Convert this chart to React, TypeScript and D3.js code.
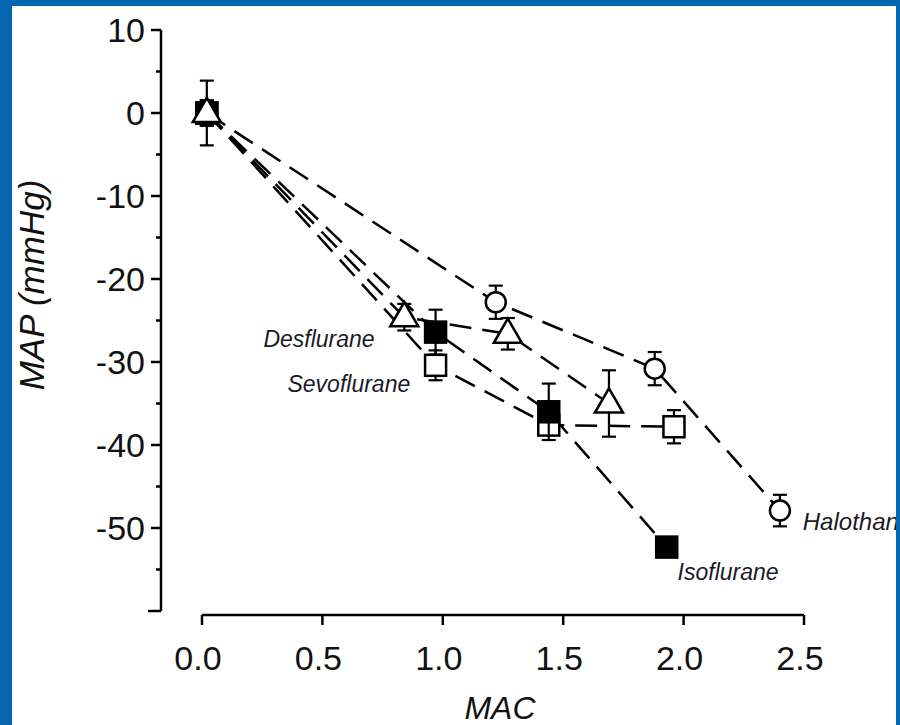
import React from "react";
import * as d3 from "d3";

const seriesNames = ["Sevoflurane", "Halothane", "Isoflurane", "Desflurane"];
const markerKinds = ["openSquare", "openCircle", "filledSquare", "openTriangle"];

const sevoMAC = [0.02, 0.97, 1.44, 1.96];
const sevoMAP = [0, -30.4, -37.6, -37.8];
const sevoErr = [1.5, 1.8, 0.8, 2.0];

const haloMAC = [0.02, 1.22, 1.88, 2.4];
const haloMAP = [0, -22.8, -30.8, -47.9];
const haloErr = [1.5, 2.0, 2.0, 1.9];

const isoMAC = [0.02, 0.97, 1.44, 1.93];
const isoMAP = [0, -26.4, -36.0, -52.3];
const isoErr = [1.5, 2.7, 3.4, 0.5];

const desMAC = [0.02, 0.84, 1.27, 1.69];
const desMAP = [0, -24.6, -26.6, -35.0];
const desErr = [3.9, 1.6, 1.9, 4.0];

const xTicks = [0, 0.5, 1.0, 1.5, 2.0, 2.5];
const yMajorTicks = [10, 0, -10, -20, -30, -40, -50, -60];
const yMinorTicks = [5, -5, -15, -25, -35, -45, -55];
const yTickLabels = ["10", "0", "-10", "-20", "-30", "-40", "-50", ""];

const labelNames = ["Desflurane", "Sevoflurane", "Isoflurane", "Halothane"];
const labelMAC = [0.255, 0.355, 1.975, 2.495];
const labelMAP = [-28.2, -33.6, -56.3, -50.2];

const FONT = "'Liberation Sans', Arial, Helvetica, sans-serif";
const BLUE = "#0466ae";

export default function App() {
  const W = 900;
  const H = 725;
  const x = d3.scaleLinear().domain([0, 2.5]).range([202, 804]);
  const y = d3.scaleLinear().domain([10, -60]).range([30, 611]);
  const axisX = 161;
  const xAxisY = 615;

  const series = [
    { mac: sevoMAC, map: sevoMAP, err: sevoErr },
    { mac: haloMAC, map: haloMAP, err: haloErr },
    { mac: isoMAC, map: isoMAP, err: isoErr },
    { mac: desMAC, map: desMAP, err: desErr },
  ];

  const line = d3
    .line<[number, number]>()
    .x((d) => x(d[0]))
    .y((d) => y(d[1]));

  const sw = 2.5;

  const marker = (kind: string, cx: number, cy: number, key: string) => {
    if (kind === "openCircle")
      return <circle key={key} cx={cx} cy={cy} r={10} fill="#fff" stroke="#000" strokeWidth={sw} />;
    if (kind === "openSquare")
      return <rect key={key} x={cx - 10.5} y={cy - 10.5} width={21} height={21} fill="#fff" stroke="#000" strokeWidth={sw} />;
    if (kind === "filledSquare")
      return <rect key={key} x={cx - 11} y={cy - 11} width={22} height={22} fill="#000" stroke="#000" strokeWidth={1.5} />;
    const tri = d3.symbol().type(d3.symbolTriangle).size(340)();
    return (
      <path key={key} d={tri || ""} transform={`translate(${cx},${cy + 1})`} fill="#fff" stroke="#000" strokeWidth={sw} />
    );
  };

  return (
    <svg width={W} height={H} style={{ position: "absolute", left: 0, top: 0, display: "block", background: "#fff" }}>
      <rect x={0} y={0} width={W} height={H} fill="#fff" />

      {/* Y axis */}
      <line x1={axisX} x2={axisX} y1={y(10)} y2={y(-60)} stroke="#000" strokeWidth={2.5} />
      {yMajorTicks.map((t, i) => (
        <g key={"ym" + i}>
          <line x1={axisX - (t === -60 ? 13 : 10)} x2={axisX} y1={y(t)} y2={y(t)} stroke="#000" strokeWidth={2.5} />
          <text x={145} y={y(t) + 12} textAnchor="end" fontFamily={FONT} fontSize={34} fill="#111">
            {yTickLabels[i]}
          </text>
        </g>
      ))}
      {yMinorTicks.map((t, i) => (
        <line key={"yn" + i} x1={axisX - 5} x2={axisX} y1={y(t)} y2={y(t)} stroke="#000" strokeWidth={2.5} />
      ))}
      <text
        transform={`translate(44,285) rotate(-90)`}
        textAnchor="middle"
        fontFamily={FONT}
        fontStyle="italic"
        fontSize={35}
        fill="#111"
      >
        MAP (mmHg)
      </text>

      {/* X axis */}
      <line x1={x(0)} x2={x(2.5)} y1={xAxisY} y2={xAxisY} stroke="#000" strokeWidth={2.5} />
      {xTicks.map((t, i) => (
        <g key={"xt" + i}>
          <line x1={x(t)} x2={x(t)} y1={xAxisY} y2={xAxisY + 10} stroke="#000" strokeWidth={2.5} />
          <text x={x(t) - 4} y={670} textAnchor="middle" fontFamily={FONT} fontSize={34} fill="#111">
            {d3.format(".1f")(t)}
          </text>
        </g>
      ))}
      <text x={500} y={719} textAnchor="middle" fontFamily={FONT} fontStyle="italic" fontSize={32} fill="#111">
        MAC
      </text>

      {/* dashed lines */}
      {series.map((s, si) => (
        <path
          key={"l" + si}
          d={line(s.mac.map((m, i) => [m, s.map[i]] as [number, number])) || ""}
          fill="none"
          stroke="#000"
          strokeWidth={sw}
          strokeDasharray="22 11"
        />
      ))}

      {/* error bars + markers */}
      {series.map((s, si) => (
        <g key={"s" + si}>
          {s.mac.map((m, i) => {
            const cx = x(m);
            const top = y(s.map[i] + s.err[i]);
            const bot = y(s.map[i] - s.err[i]);
            return (
              <g key={"e" + i}>
                <line x1={cx} x2={cx} y1={top} y2={bot} stroke="#000" strokeWidth={2.2} />
                <line x1={cx - 7} x2={cx + 7} y1={top} y2={top} stroke="#000" strokeWidth={2.2} />
                <line x1={cx - 7} x2={cx + 7} y1={bot} y2={bot} stroke="#000" strokeWidth={2.2} />
              </g>
            );
          })}
          {s.mac.map((m, i) => marker(markerKinds[si], x(m), y(s.map[i]), "m" + i))}
        </g>
      ))}

      {/* series labels */}
      {labelNames.map((n, i) => (
        <text
          key={"lab" + i}
          x={x(labelMAC[i])}
          y={y(labelMAP[i])}
          fontFamily={FONT}
          fontStyle="italic"
          fontSize={i === 3 ? 24 : 23}
          fill="#1a1a2a"
        >
          {n}
        </text>
      ))}

      {/* blue frame */}
      <rect x={0} y={0} width={W} height={6} fill={BLUE} />
      <rect x={0} y={0} width={12} height={H} fill={BLUE} />
      <rect x={896} y={0} width={4} height={H} fill={BLUE} />
    </svg>
  );
}
